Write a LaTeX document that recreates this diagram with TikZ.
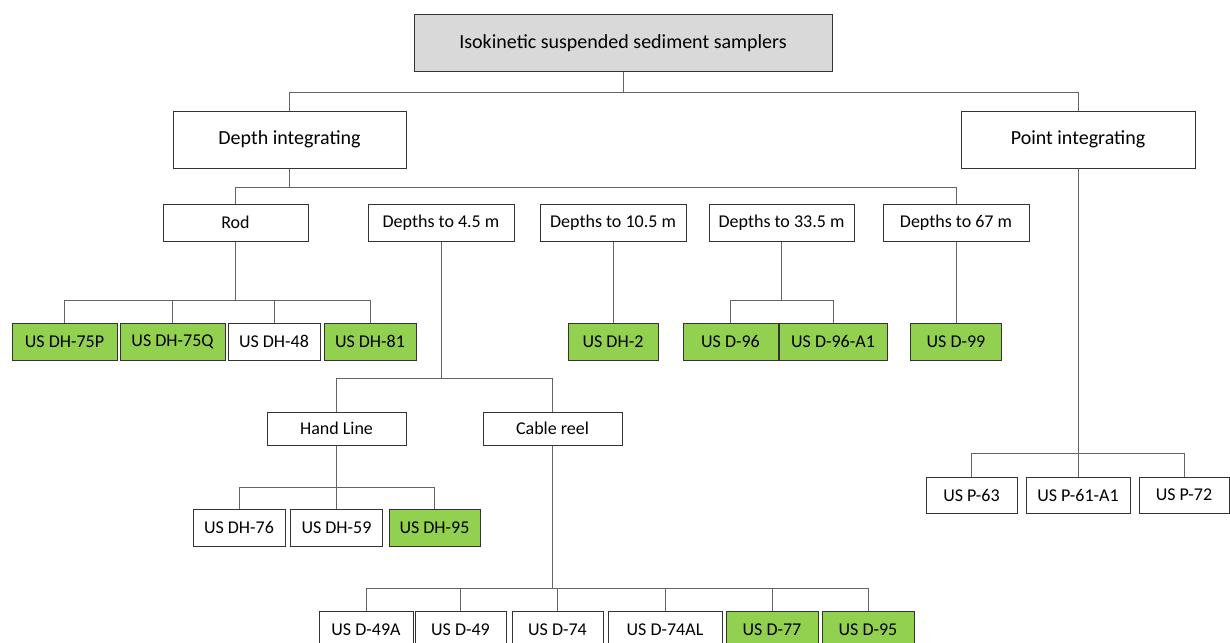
\documentclass[tikz,border=0pt]{standalone}
\usepackage{fontspec}
\setmainfont{Carlito}
\usetikzlibrary{positioning,calc}
\definecolor{gray2}{RGB}{217,217,217}
\definecolor{green2}{RGB}{146,208,80}
\definecolor{linegray}{RGB}{100,100,100}
\tikzset{box/.style={rectangle, draw=black!80, fill=white, line width=1pt,
inner sep=0pt, minimum height=37pt, font=\fontsize{18}{18}\selectfont},
bigbox/.style={box, minimum height=57pt, font=\fontsize{20}{20}\selectfont},
topbox/.style={bigbox, fill=gray2},
greenbox/.style={box, fill=green2},
conn/.style={draw=linegray, line width=1pt}}

\begin{document}
\begin{tikzpicture}[x=1pt,y=-1pt]
\useasboundingbox (0,0) rectangle (1230,642);

\node (ISS) [topbox, minimum width=418pt, minimum height=56pt] at (623,43) {Isokinetic suspended sediment samplers};
\node (DI) [bigbox, minimum width=233pt] at (289.5,139.5) {Depth integrating};
\node (PI) [bigbox, minimum width=234pt] at (1078,139.5) {Point integrating};

\node (Rod) [box, minimum width=145pt] at (235.5,222.5) {Rod};
\node (D4) [box, minimum width=146pt] at (441,222.5) {Depths to 4.5 m};
\node (D10) [box, minimum width=146pt] at (613,222.5) {Depths to 10.5 m};
\node (D33) [box, minimum width=145pt] at (781.5,222.5) {Depths to 33.5 m};
\node (D67) [box, minimum width=146pt] at (956,222.5) {Depths to 67 m};

\node (DH75P) [greenbox, minimum width=105pt] at (64.5,341.5) {US DH-75P};
\node (DH75Q) [greenbox, minimum width=105pt] at (172.5,341.5) {US DH-75Q};
\node (DH48) [box, minimum width=92pt] at (274,341.5) {US DH-48};
\node (DH81) [greenbox, minimum width=92pt] at (370,341.5) {US DH-81};
\node (DH2) [greenbox, minimum width=90pt] at (613,341.5) {US DH-2};
\node (D96) [greenbox, minimum width=95pt] at (730.5,341.5) {US D-96};
\node (D96A1) [greenbox, minimum width=108pt] at (833,341.5) {US D-96-A1};
\node (D99) [greenbox, minimum width=91pt] at (956,341.5) {US D-99};

\node (HL) [box, minimum width=139pt, minimum height=33pt] at (336.5,428.5) {Hand Line};
\node (CR) [box, minimum width=139pt, minimum height=33pt] at (552.5,428.5) {Cable reel};

\node (DH76) [box, minimum width=92pt] at (239,527.5) {US DH-76};
\node (DH59) [box, minimum width=92pt] at (336.5,527.5) {US DH-59};
\node (DH95) [greenbox, minimum width=91pt] at (434.5,527.5) {US DH-95};

\node (P63) [box, minimum width=91pt, minimum height=36pt] at (971.5,495) {US P-63};
\node (P61A1) [box, minimum width=104pt, minimum height=36pt] at (1078,495) {US P-61-A1};
\node (P72) [box, minimum width=90pt, minimum height=36pt] at (1184,495) {US P-72};

\node (D49A) [box, minimum width=94pt] at (366,629.5) {US D-49A};
\node (D49) [box, minimum width=91pt] at (460.5,629.5) {US D-49};
\node (D74) [box, minimum width=91pt] at (557.5,629.5) {US D-74};
\node (D74AL) [box, minimum width=114pt] at (665,629.5) {US D-74AL};
\node (D77) [greenbox, minimum width=92pt] at (772,629.5) {US D-77};
\node (D95) [greenbox, minimum width=92pt] at (868,629.5) {US D-95};

% bus levels
\coordinate (topbus) at (0,92);
\coordinate (dibus) at (0,187);
\coordinate (rodbus) at (0,300);
\coordinate (d33bus) at (0,300);
\coordinate (d4bus) at (0,378);
\coordinate (hlbus) at (0,487);
\coordinate (crbus) at (0,588);
\coordinate (pibus) at (0,453);

\foreach \c in {DI,PI}
  \draw[conn]
  (ISS.south)
     |- (topbus -| \c)
     -- (\c.north);
\foreach \c in {Rod,D67}
  \draw[conn]
  (DI.south)
     |- (dibus -| \c)
     -- (\c.north);
\foreach \c in {DH75P,DH75Q,DH48,DH81}
  \draw[conn]
  (Rod.south)
     |- (rodbus -| \c)
     -- (\c.north);
\draw[conn]
(D10.south)
   --
(DH2.north);
\foreach \c in {D96,D96A1}
  \draw[conn]
  (D33.south)
     |- (d33bus -| \c)
     -- (\c.north);
\draw[conn]
(D67.south)
   --
(D99.north);
\foreach \c in {HL,CR}
  \draw[conn]
  (D4.south)
     |- (d4bus -| \c)
     -- (\c.north);
\foreach \c in {DH76,DH59,DH95}
  \draw[conn]
  (HL.south)
     |- (hlbus -| \c)
     -- (\c.north);
\foreach \c in {D49A,D49,D74,D74AL,D77,D95}
  \draw[conn]
  (CR.south)
     |- (crbus -| \c)
     -- (\c.north);
\foreach \c in {P63,P61A1,P72}
  \draw[conn]
  (PI.south)
     |- (pibus -| \c)
     -- (\c.north);
\end{tikzpicture}
\end{document}
